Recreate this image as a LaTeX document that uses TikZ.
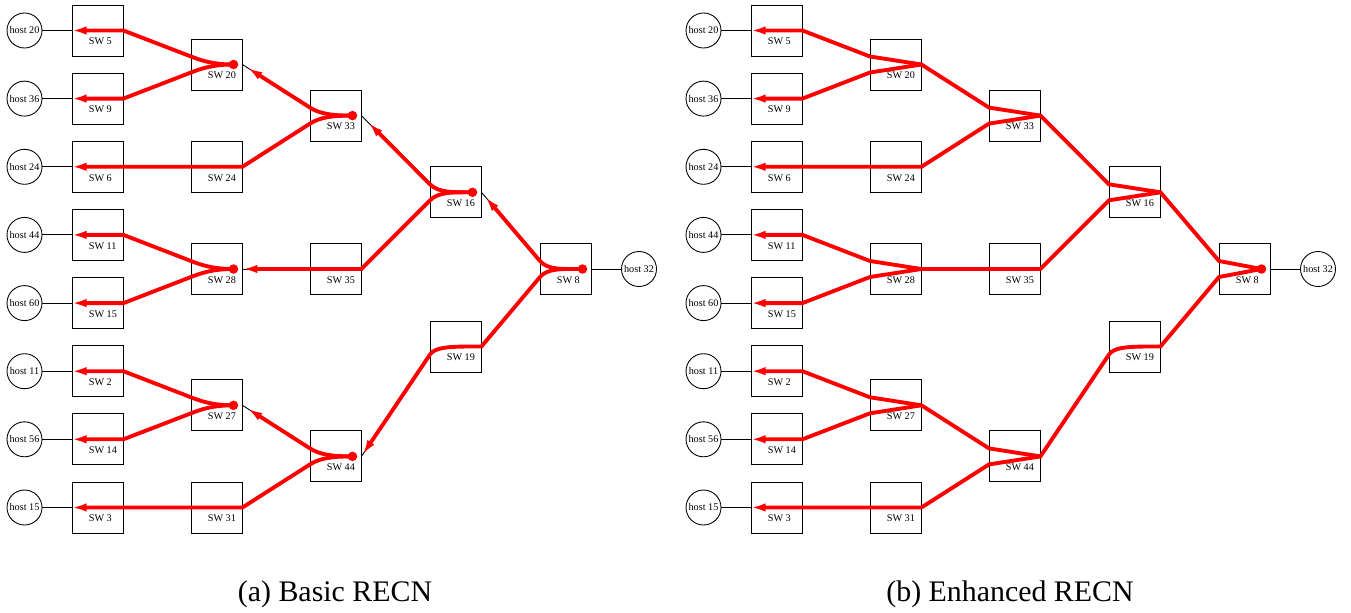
\documentclass[tikz,border=0pt]{standalone}
\usepackage{fontspec}
\setmainfont{Liberation Serif}
\usetikzlibrary{arrows.meta}

\tikzset{
    sw/.style={draw, line width=0.5pt, minimum size=1.02cm, inner sep=0pt},
    swtext/.style={anchor=west, inner sep=0pt, font=\fontsize{5.8}{7}\selectfont},
    host/.style={draw, circle, line width=0.5pt, minimum size=0.7cm, inner sep=0pt,
        font=\fontsize{5.8}{7}\selectfont},
    link/.style={line width=0.5pt},
    flow/.style={red, line width=2.2pt},
    flowarr/.style={flow, -{Latex[length=8.5pt,width=4.8pt]}},
    captext/.style={anchor=base, font=\fontsize{17}{20}\selectfont}
}

\begin{document}
\begin{tikzpicture}[x=0.02cm, y=-0.02cm]
    \useasboundingbox (0, 0) rectangle (1351, 612);

    % Both networks, (a) on the left and (b) on the right
    \foreach \p/\dx in {a/0, b/679} {
        \foreach \n/\x/\y in {5/97.5/30.5, 9/97.5/98.6, 6/97.5/166.8, 11/97.5/234.9,
                15/97.5/303.1, 2/97.5/371.2, 14/97.5/439.3, 3/97.5/507.5,
                20/216.5/64.5, 24/216.5/166.8, 28/216.5/269, 27/216.5/405.3, 31/216.5/507.5,
                33/335.5/115.6, 35/335.5/269, 44/335.5/456.4,
                16/455.5/192.3, 19/455.5/346.5, 8/565.5/269} {
            \node [sw] (\p\n) at (\x+\dx, \y) {};
            \node [swtext] (\p\n-t) at (\x+\dx-9, \y+11) {SW \n};
            \coordinate (\p\n-wu) at (\x+\dx-25.5, \y-8);
            \coordinate (\p\n-wl) at (\x+\dx-25.5, \y+8);
            \coordinate (\p\n-d) at (\x+\dx+17, \y);
        }
        \foreach \h/\n/\y in {20/5/30.5, 36/9/98.6, 24/6/166.8, 44/11/234.9,
                60/15/303.1, 11/2/371.2, 56/14/439.3, 15/3/507.5} {
            \node [host] (\p h\h) at (24.5+\dx, \y) {host \h};
            \draw [link] (\p h\h) -- (\p\n);
        }
        \node [host] (\p h32) at (639+\dx, 269) {host 32};
        \draw [link] (\p8) -- (\p h32);
        \foreach \s/\t in {5/20-wu, 9/20-wl, 6/24.west, 11/28-wu, 15/28-wl, 2/27-wu,
                14/27-wl, 3/31.west, 20/33-wu, 24/33-wl, 28/35.west, 27/44-wu, 31/44-wl,
                33/16-wu, 35/16-wl, 44/19-wl, 16/8-wu, 19/8-wl}
            \draw [link] (\p\s.east) -- (\p\t);
    }

    % (a) Basic RECN
    \draw [flowarr] (a20-d) .. controls +(-20, 0) and +(11, 4.3) .. (a20-wu) -- (a5.east) -- (a5.west);
    \draw [flowarr] (a20-d) .. controls +(-20, 0) and +(11, -4.3) .. (a20-wl) -- (a9.east) -- (a9.west);
    \draw [flowarr] (a28-d) .. controls +(-20, 0) and +(11, 4.3) .. (a28-wu) -- (a11.east) -- (a11.west);
    \draw [flowarr] (a28-d) .. controls +(-20, 0) and +(11, -4.3) .. (a28-wl) -- (a15.east) -- (a15.west);
    \draw [flowarr] (a27-d) .. controls +(-20, 0) and +(11, 4.3) .. (a27-wu) -- (a2.east) -- (a2.west);
    \draw [flowarr] (a27-d) .. controls +(-20, 0) and +(11, -4.3) .. (a27-wl) -- (a14.east) -- (a14.west);
    \draw [flowarr, shorten >=0.12cm] (a33-d) .. controls +(-20, 0) and +(10, 6.4) .. (a33-wu) -- (a20.east);
    \draw [flowarr] (a33-d) .. controls +(-20, 0) and +(10, -6.4) .. (a33-wl) -- (a24.east) -- (a6.west);
    \draw [flowarr, shorten >=0.12cm] (a44-d) .. controls +(-20, 0) and +(10, 6.4) .. (a44-wu) -- (a27.east);
    \draw [flowarr] (a44-d) .. controls +(-20, 0) and +(10, -6.4) .. (a44-wl) -- (a31.east) -- (a3.west);
    \draw [flowarr, shorten >=0.2cm] (a16-d) .. controls +(-20, 0) and +(8.5, 8.5) .. (a16-wu) -- (a33.east);
    \draw [flowarr] (a16-d) .. controls +(-20, 0) and +(8.5, -8.5) .. (a16-wl) -- (a35.east) -- (a28.east);
    \draw [flowarr, shorten >=0.12cm] (a8-d) .. controls +(-20, 0) and +(7.8, 9.1) .. (a8-wu) -- (a16.east);
    \draw [flowarr, shorten >=0.04cm] (a8-d) .. controls +(-20, 0) and +(7.8, -9.1) .. (a8-wl) -- (a19.east)
        .. controls +(-28, 0) and +(5.6, -8.3) .. (a19-wl) -- (a44.east);
    \foreach \n in {20, 28, 27, 33, 44, 16, 8}
        \fill [red] (a\n-d) circle (0.095cm);

    % (b) Enhanced RECN
    \draw [flowarr] (b8-d) -- (b8-wu) -- (b16.east) -- (b16-wu) -- (b33.east) -- (b33-wu)
        -- (b20.east) -- (b20-wu) -- (b5.east) -- (b5.west);
    \draw [flowarr] (b20.east) -- (b20-wl) -- (b9.east) -- (b9.west);
    \draw [flowarr] (b33.east) -- (b33-wl) -- (b24.east) -- (b6.west);
    \draw [flow] (b16.east) -- (b16-wl) -- (b35.east) -- (b28.east);
    \draw [flowarr] (b28.east) -- (b28-wu) -- (b11.east) -- (b11.west);
    \draw [flowarr] (b28.east) -- (b28-wl) -- (b15.east) -- (b15.west);
    \draw [flowarr] (b8-d) -- (b8-wl) -- (b19.east) .. controls +(-28, 0) and +(5.6, -8.3) .. (b19-wl)
        -- (b44.east) -- (b44-wu) -- (b27.east) -- (b27-wu) -- (b2.east) -- (b2.west);
    \draw [flowarr] (b27.east) -- (b27-wl) -- (b14.east) -- (b14.west);
    \draw [flowarr] (b44.east) -- (b44-wl) -- (b31.east) -- (b3.west);
    \fill [red] (b8-d) circle (0.095cm);

    \node [captext] (capa) at (335, 601) {(a) Basic RECN};
    \node [captext] (capb) at (1010, 601) {(b) Enhanced RECN};
\end{tikzpicture}
\end{document}
